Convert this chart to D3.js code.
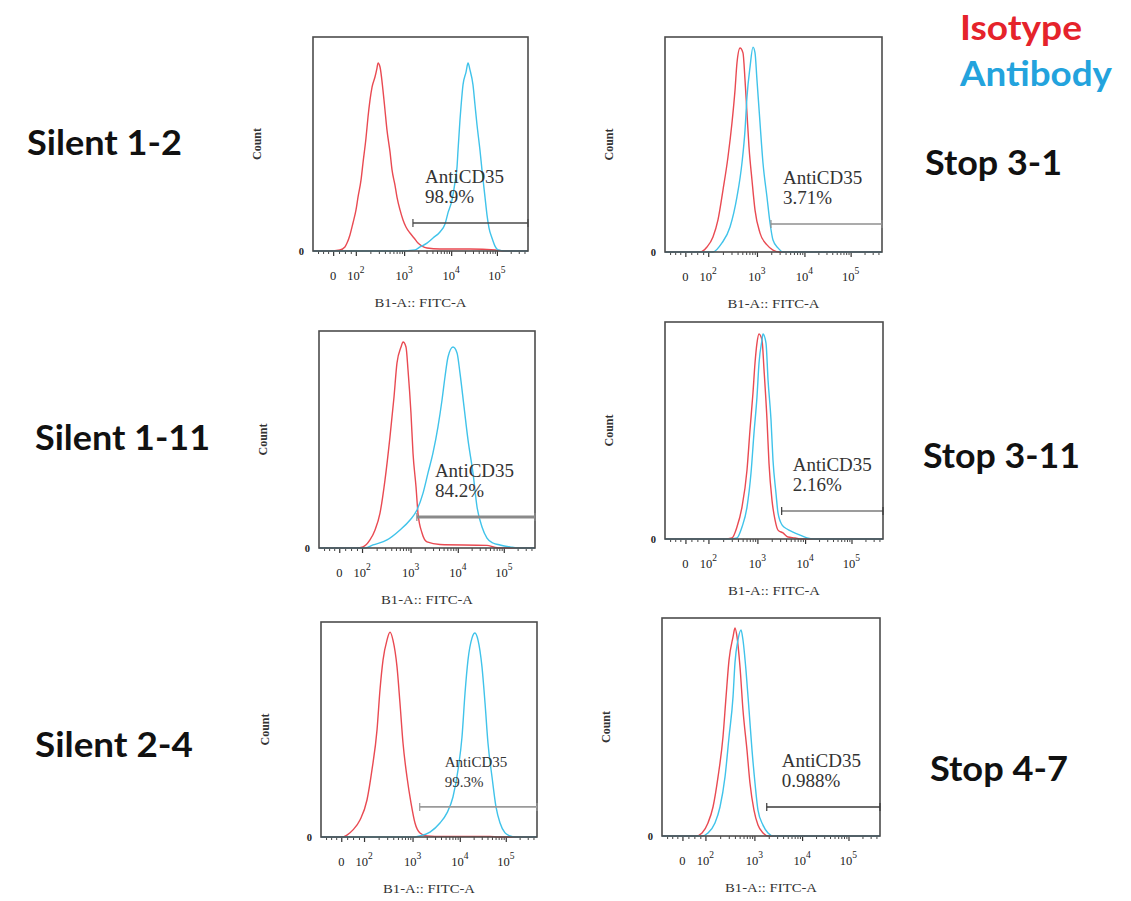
<!DOCTYPE html>
<html>
<head>
<meta charset="utf-8">
<script src="https://cdn.jsdelivr.net/npm/d3@7"></script>
<style>
  body { margin: 0; background: #fff; }
  svg { display: block; }
</style>
</head>
<body>
<svg id="fig" width="1131" height="901"></svg>
<script>
// Histograms are binned on the 256-channel display scale (biexponential FITC axis).
const axisTickChannels = [24, 51, 108.5, 164.5, 219];
const axisTickLabels = [["0", ""], ["10", "2"], ["10", "3"], ["10", "4"], ["10", "5"]];

const sampleNames = ["Silent 1-2", "Stop 3-1", "Silent 1-11", "Stop 3-11", "Silent 2-4", "Stop 4-7"];
const gateName = "AntiCD35";
const gatePercent = ["98.9%", "3.71%", "84.2%", "2.16%", "99.3%", "0.988%"];
const gateStartChannel = [119, 125, 116, 137, 117, 123];
const gateLevel = [13.1, 13.0, 14.3, 12.9, 14.0, 13.3];

const legendNames = ["Isotype", "Antibody"];

// [channel, count as % of plot height]
const silent12Isotype = [[0,0],[20,0],[32,0.5],[38,1.9],[40.5,3.7],[44,7.5],[47.6,13.1],[51.2,19.2],[53.6,25.2],[57.2,33.2],[59.5,41.1],[63.1,52.8],[65.5,62.6],[67.9,70.6],[70.3,76.6],[73.8,81.3],[76.2,85.5],[77.4,87.9],[79.8,86],[83.3,75.2],[85.7,65.9],[88.1,56.5],[91.7,46.3],[94.1,37.9],[97.6,30.8],[100,25.2],[103.6,19.2],[107.2,14.5],[110.7,11.2],[115.5,8.4],[120.3,6.1],[125,3.7],[129.8,2.3],[135.7,1.4],[151,0.9],[187,0.9],[217,0.5],[229,0],[256,0]];
const silent12Antibody = [[0,0],[104,0],[121.5,0.5],[127.4,1.9],[135.7,3.7],[142.9,6.1],[151.2,8.9],[157.2,12.6],[160.7,17.8],[165.5,23.8],[169.1,32.2],[171.5,39.3],[172.7,47.2],[175,61.2],[176.2,67.3],[178.6,77.6],[182.2,83.6],[184.6,87.9],[186.9,84.6],[190.5,77.6],[192.9,68.2],[195.3,58.9],[198.8,47.2],[201.2,37.9],[204.8,25.2],[207.2,16.8],[209.6,10.7],[213.1,6.1],[216.7,2.3],[220.3,0.5],[228.6,0],[256,0]];

const stop31Isotype = [[0,0],[41.3,0],[49.5,2.3],[56.6,7],[62.5,14.9],[68.4,28.8],[74.3,44.2],[79,60],[82.6,75.3],[84.9,87.9],[88.5,94.9],[92,92.6],[94.4,80],[96.7,64.6],[99.1,48.8],[102.6,33.5],[106.2,19.5],[112.1,8.8],[120.3,3.3],[127.4,0.9],[135.7,0],[256,0]];
const stop31Antibody = [[0,0],[56.6,0],[67.2,4.2],[76.7,11.6],[84.9,25.6],[90.8,41.4],[94.4,56.7],[96.7,72.1],[100.3,86],[103.8,95.3],[106.2,92.6],[108.5,80],[112.1,60],[115.6,41.4],[120.3,25.6],[123.9,13.5],[127.4,5.6],[133.3,1.9],[139.2,0],[256,0]];

const silent111Isotype = [[0,0],[45,0],[52.1,0.5],[60.4,3.7],[66.4,8.3],[72.3,16.1],[78.2,31.3],[84.1,51.1],[88.9,69.6],[92.4,85.2],[97.2,92.6],[99.6,94.9],[103.1,92.6],[105.5,82],[109,62.2],[111.4,43.8],[115,28.1],[117.3,16.1],[122.1,6.9],[128,2.8],[143.4,1.6],[199,1.2],[208.6,0.3],[215,0],[256,0]];
const silent111Antibody = [[0,0],[55,0],[64,1.4],[80.6,3.7],[96,8.3],[107.9,12.9],[116.1,17.5],[123.3,25.3],[129.2,34.6],[135.1,43.8],[141,55.8],[145.8,68.2],[149.3,78.8],[152.9,88],[158.8,92.6],[163.6,89.9],[167.1,80.6],[171.9,65],[176.6,49.8],[182.5,34.6],[187.3,18.9],[193.2,9.7],[199.1,4.6],[206.2,2.3],[214.5,1.4],[226.4,0.5],[235,0],[256,0]];

const stop311Isotype = [[0,0],[70,0],[78.7,0.5],[84.5,5.5],[90.4,14.7],[96.3,31.8],[99.8,50.2],[103.3,67.3],[105.7,81.1],[108,90.3],[110.4,94.5],[113.9,91.7],[116.3,77.9],[119.8,54.8],[122.1,35],[125.6,18],[129.2,8.8],[132.7,4.1],[138.6,2.8],[144.4,0.9],[152.7,0.5],[160,0],[256,0]];
const stop311Antibody = [[0,0],[76,0],[84.5,0.5],[90.4,5.5],[96.3,14.7],[101,30.4],[104.5,48.8],[108,65.4],[110.4,81.1],[113.9,91.7],[115.1,94.5],[118.6,90.3],[121,73.3],[124.5,54.8],[126.8,36.4],[130.3,21.2],[132.7,12],[137.4,6.5],[143.3,4.6],[150.3,3.2],[158.5,1.8],[166.8,0.5],[175,0],[256,0]];

const silent24Isotype = [[0,0],[24,0],[30.8,0.9],[37.9,3.3],[46.2,7.9],[54.5,17.2],[60.4,31.2],[66.4,49.8],[69.9,68.4],[73.5,82.3],[78.2,91.6],[81.8,95.3],[85.3,91.6],[90.1,79.1],[93.6,62.3],[97.2,43.7],[101.9,27.9],[106.7,15.8],[111.4,6.5],[117.3,1.9],[125.6,0.5],[135,0.3],[200,0.3],[210,0],[256,0]];
const silent24Antibody = [[0,0],[110,0],[117.3,0.5],[129.2,2.3],[141,6.5],[149.3,11.2],[156.4,18.6],[162.4,31.2],[167.1,46.5],[170.7,67],[174.2,82.3],[179,92.6],[182.5,94.9],[186.1,91.6],[190.8,79.1],[194.4,62.3],[197.9,43.7],[202.7,27.9],[207.4,14],[212.2,6.5],[218.1,1.9],[224,0.5],[230,0],[256,0]];

const stop47Isotype = [[0,0],[40,0],[47,1.4],[54,6],[59.9,13.3],[65.8,27.1],[71.6,45.4],[75.2,63.8],[78.7,80.7],[83.4,91.3],[85.7,95.4],[88.1,91.3],[91.6,77.5],[95.1,57.8],[99.8,39.4],[103.3,24.3],[108,11.9],[112.7,5],[118.6,1.4],[125,0],[256,0]];
const stop47Antibody = [[0,0],[47,0],[54,1.4],[62.2,6],[68.1,13.3],[74,27.1],[78.7,45.4],[83.4,63.8],[85.7,79.4],[89.2,89.9],[92.8,94.5],[95.1,89.9],[98.6,76.1],[102.2,57.8],[105.7,39.4],[109.2,24.3],[112.7,11.9],[118.6,5],[124.5,1.4],[131,0],[256,0]];

const isotypeSeries = [silent12Isotype, stop31Isotype, silent111Isotype, stop311Isotype, silent24Isotype, stop47Isotype];
const antibodySeries = [silent12Antibody, stop31Antibody, silent111Antibody, stop311Antibody, silent24Antibody, stop47Antibody];

// ---- layout -------------------------------------------------------------
const panelBoxes = [
  { left: 313, top: 37,  right: 528, bottom: 251 },
  { left: 665, top: 37,  right: 882, bottom: 252 },
  { left: 319, top: 331, right: 535, bottom: 548 },
  { left: 665, top: 322, right: 883, bottom: 539 },
  { left: 321, top: 622, right: 537, bottom: 837 },
  { left: 662, top: 618, right: 880, bottom: 836 }
];
const gateStyle = [
  { color: "#4a4a4a", width: 1.6, labelDx: 12, font: 19 },
  { color: "#8f8f8f", width: 1.6, labelDx: 12, font: 19 },
  { color: "#8a8a8a", width: 3.0, labelDx: 18, font: 19 },
  { color: "#3a3a3a", width: 1.2, labelDx: 11, font: 19 },
  { color: "#9a9a9a", width: 1.8, labelDx: 25, font: 15 },
  { color: "#3a3a3a", width: 1.4, labelDx: 15, font: 19 }
];
const sampleLabelPos = [
  { x: 27,  y: 155, w: 155 },
  { x: 925, y: 175, w: 137 },
  { x: 35,  y: 450, w: 175 },
  { x: 923, y: 468, w: 157 },
  { x: 35,  y: 757, w: 158 },
  { x: 930, y: 781, w: 138 }
];
const legendPos = [
  { x: 960, y: 40, w: 122, color: "#e5232b" },
  { x: 960, y: 86, w: 152, color: "#23a3dd" }
];
const isotypeColor = "#e94a52";
const antibodyColor = "#40c3ea";

const svg = d3.select("#fig");
const serif = "'Liberation Serif', 'Times New Roman', serif";

function drawPanel(i) {
  const p = panelBoxes[i];
  const st = gateStyle[i];
  const x = d3.scaleLinear().domain([0, 256]).range([p.left, p.right]);
  const y = d3.scaleLinear().domain([0, 100]).range([p.bottom, p.top]);
  const g = svg.append("g").attr("class", "panel");

  // minor ticks: log sub-decades between labelled decades, plus the linear zone
  const minor = [];
  for (let k = 1; k < axisTickChannels.length - 1; k++) {
    const a = axisTickChannels[k], b = axisTickChannels[k + 1];
    for (let m = 2; m <= 9; m++) minor.push(a + Math.log10(m) * (b - a));
  }
  const lastSpan = axisTickChannels[4] - axisTickChannels[3];
  for (let m = 2; m <= 4; m++) minor.push(axisTickChannels[4] + Math.log10(m) * lastSpan);
  [6, 12, 18, 31, 38, 45].forEach(c => minor.push(c));

  const minorAxis = d3.axisBottom(x).tickValues(minor).tickSize(3).tickFormat("");
  g.append("g").attr("transform", `translate(0,${p.bottom})`).call(minorAxis)
    .call(s => s.select(".domain").remove())
    .call(s => s.selectAll("line").attr("stroke", "#444").attr("stroke-width", 1));
  const majorAxis = d3.axisBottom(x).tickValues(axisTickChannels).tickSize(5).tickFormat("");
  g.append("g").attr("transform", `translate(0,${p.bottom})`).call(majorAxis)
    .call(s => s.select(".domain").remove())
    .call(s => s.selectAll("line").attr("stroke", "#333").attr("stroke-width", 1.2));

  // tick labels with superscript exponents
  axisTickChannels.forEach((c, k) => {
    const t = g.append("text")
      .attr("x", x(c)).attr("y", p.bottom + 29)
      .attr("text-anchor", "middle")
      .attr("font-family", serif).attr("font-size", 12.5).attr("fill", "#222");
    t.append("tspan").text(axisTickLabels[k][0]);
    if (axisTickLabels[k][1]) t.append("tspan").attr("dy", -7).attr("font-size", 9.5).text(axisTickLabels[k][1]);
  });

  // y axis: only the zero count is labelled
  const yAxis = d3.axisLeft(y).tickValues([0]).tickSize(0).tickPadding(9).tickFormat(d3.format("d"));
  g.append("g").attr("transform", `translate(${p.left},0)`).call(yAxis)
    .call(s => s.select(".domain").remove())
    .call(s => s.selectAll("text").attr("font-family", serif).attr("font-size", 10.5).attr("font-weight", 700).attr("fill", "#222"));

  g.append("text")
    .attr("transform", `translate(${p.left - 52},${(p.top + p.bottom) / 2}) rotate(-90)`)
    .attr("text-anchor", "middle")
    .attr("font-family", serif).attr("font-size", 12).attr("font-weight", 700).attr("fill", "#333")
    .text("Count");

  g.append("text")
    .attr("x", (p.left + p.right) / 2).attr("y", p.bottom + 56)
    .attr("text-anchor", "middle")
    .attr("font-family", serif).attr("font-size", 12.5).attr("fill", "#333")
    .attr("textLength", 92).attr("lengthAdjust", "spacingAndGlyphs")
    .text("B1-A:: FITC-A");

  // histograms
  const line = d3.line().x(d => x(d[0])).y(d => y(d[1])).curve(d3.curveMonotoneX);
  g.append("path").datum(isotypeSeries[i]).attr("d", line)
    .attr("fill", "none").attr("stroke", isotypeColor).attr("stroke-width", 1.4);
  g.append("path").datum(antibodySeries[i]).attr("d", line)
    .attr("fill", "none").attr("stroke", antibodyColor).attr("stroke-width", 1.4);

  // frame
  g.append("rect")
    .attr("x", p.left).attr("y", p.top)
    .attr("width", p.right - p.left).attr("height", p.bottom - p.top)
    .attr("fill", "none").attr("stroke", "#4d4d4d").attr("stroke-width", 1.6);

  // positive gate
  const gy = y(gateLevel[i]);
  const gx0 = x(gateStartChannel[i]), gx1 = x(256);
  const gate = g.append("g").attr("stroke", st.color).attr("stroke-width", st.width);
  gate.append("line").attr("x1", gx0).attr("x2", gx1).attr("y1", gy).attr("y2", gy);
  gate.append("line").attr("x1", gx0).attr("x2", gx0).attr("y1", gy - 4).attr("y2", gy + 4).attr("stroke-width", 1.2);
  gate.append("line").attr("x1", gx1).attr("x2", gx1).attr("y1", gy - 4).attr("y2", gy + 4).attr("stroke-width", 1.2);

  g.append("text")
    .attr("x", gx0 + st.labelDx).attr("y", gy - 40)
    .attr("font-family", serif).attr("font-size", st.font).attr("fill", "#333")
    .text(gateName);
  g.append("text")
    .attr("x", gx0 + st.labelDx).attr("y", gy - 20)
    .attr("font-family", serif).attr("font-size", st.font).attr("fill", "#333")
    .text(gatePercent[i]);
}

d3.range(6).forEach(drawPanel);

// sample names beside each histogram
sampleNames.forEach((name, i) => {
  const s = sampleLabelPos[i];
  svg.append("text")
    .attr("x", s.x).attr("y", s.y)
    .attr("font-family", "Lato, 'Open Sans', sans-serif").attr("font-weight", 700)
    .attr("font-size", 35).attr("fill", "#111")
    .attr("textLength", s.w).attr("lengthAdjust", "spacingAndGlyphs")
    .text(name);
});

// colour key
legendNames.forEach((name, i) => {
  const s = legendPos[i];
  svg.append("text")
    .attr("x", s.x).attr("y", s.y)
    .attr("font-family", "Lato, 'Open Sans', sans-serif").attr("font-weight", 700)
    .attr("font-size", 34).attr("fill", s.color)
    .attr("textLength", s.w).attr("lengthAdjust", "spacingAndGlyphs")
    .text(name);
});
</script>
</body>
</html>
